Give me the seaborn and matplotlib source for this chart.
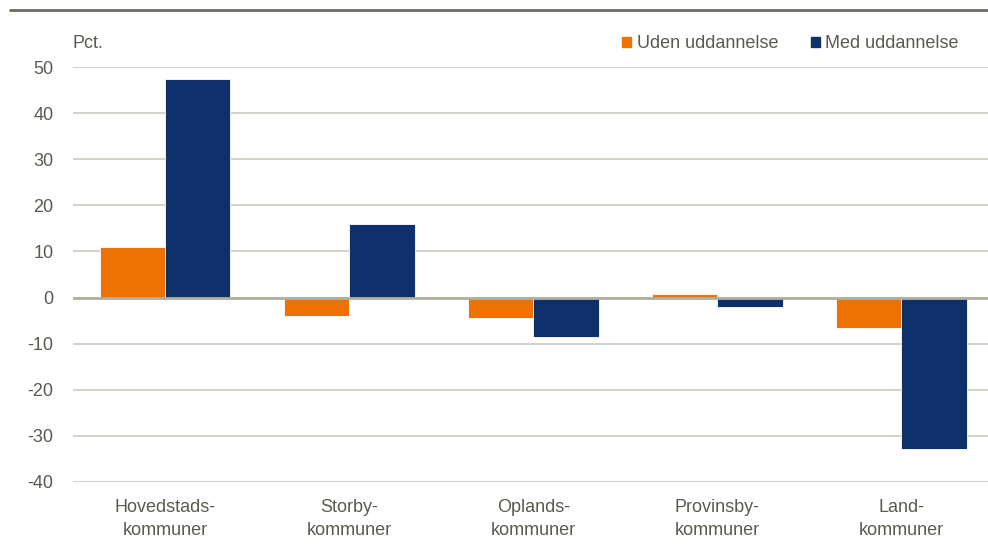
import matplotlib.pyplot as plt
import pandas as pd
import seaborn as sns
from matplotlib import font_manager

categories = [
    "Hovedstads-\nkommuner",
    "Storby-\nkommuner",
    "Oplands-\nkommuner",
    "Provinsby-\nkommuner",
    "Land-\nkommuner",
]
uden_uddannelse = [11.0, -4.0, -4.4, 0.8, -6.6]
med_uddannelse = [47.4, 16.0, -8.5, -2.0, -32.8]
series_names = ["Uden uddannelse", "Med uddannelse"]
y_ticks = [50, 40, 30, 20, 10, 0, -10, -20, -30, -40]

df = pd.DataFrame(
    {
        "kategori": categories * 2,
        "serie": [series_names[0]] * 5 + [series_names[1]] * 5,
        "pct": uden_uddannelse + med_uddannelse,
    }
)

sns.set_theme(style="white")
installed = {f.name for f in font_manager.fontManager.ttflist}
family = "Liberation Sans Narrow" if "Liberation Sans Narrow" in installed else "Liberation Sans"
plt.rcParams["font.family"] = [family, "DejaVu Sans"]

text_color = "#5a5a50"
orange, navy = "#ee7203", "#10306b"
fig = plt.figure(figsize=(9.88, 5.49), dpi=100)
ax = fig.add_axes([73 / 988, 1 - 482 / 549, 1 - 73 / 988, 415 / 549])

sns.barplot(
    data=df,
    x="kategori",
    y="pct",
    hue="serie",
    palette=[orange, navy],
    saturation=1,
    width=0.71,
    gap=0.0,
    edgecolor="white",
    linewidth=0.6,
    legend=False,
    ax=ax,
)

ax.set_ylim(-40, 50)
ax.set_xlim(-0.5, 4.47)
ax.set_yticks(y_ticks)
ax.set_yticklabels([str(t) for t in y_ticks])
ax.yaxis.grid(True, color="#d4d3cb", linewidth=1.5)
ax.set_axisbelow(True)
ax.axhline(0, color="#b0ae9f", linewidth=2, zorder=1.5)
for s in ax.spines.values():
    s.set_visible(False)
ax.set_xlabel("")
ax.set_ylabel("")
ax.tick_params(axis="y", length=0, pad=14, labelsize=13, labelcolor=text_color)
ax.tick_params(axis="x", length=0, pad=12, labelsize=13, labelcolor=text_color)
for lbl in ax.get_xticklabels():
    lbl.set_linespacing(1.45)

fig.text(72 / 988, 1 - 44 / 549, "Pct.", fontsize=13, color=text_color, va="center")
fig.add_artist(plt.Line2D([10 / 988, 1], [1 - 10 / 549] * 2, color="#6b6a5c", linewidth=2))

handles = [
    plt.Rectangle((0, 0), 1, 1, color=orange),
    plt.Rectangle((0, 0), 1, 1, color=navy),
]
fig.legend(
    handles,
    series_names,
    loc="center right",
    bbox_to_anchor=(975 / 988, 1 - 44 / 549),
    ncol=2,
    frameon=False,
    fontsize=13,
    labelcolor=text_color,
    handlelength=0.5,
    handleheight=0.5,
    handletextpad=0.3,
    columnspacing=1.8,
)

fig.savefig("out.png", dpi=100)
